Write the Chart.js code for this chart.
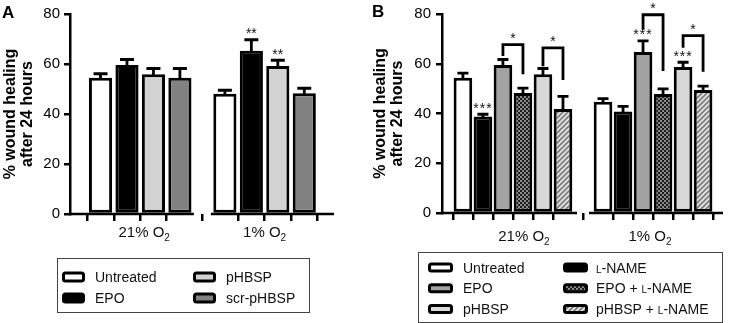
<!DOCTYPE html>
<html>
<head>
<meta charset="utf-8">
<script src="https://cdn.jsdelivr.net/npm/chart.js@4.4.1/dist/chart.umd.min.js"></script>
<style>
  html, body { margin: 0; padding: 0; background: #fff; }
  #wrap { position: relative; width: 729px; height: 323px; }
  canvas { position: absolute; top: 0; }
  #chartA { left: 0; }
  #chartB { left: 360px; }
</style>
</head>
<body>
<div id="wrap">
  <canvas id="chartA" width="360" height="323"></canvas>
  <canvas id="chartB" width="369" height="323"></canvas>
</div>
<script>
// ---- data ----
const GROUP_LABELS = ['21% O₂', '1% O₂'];
const Y_TICKS = [0, 20, 40, 60, 80];

// panel A
const A_TREATMENTS = ['Untreated', 'EPO', 'pHBSP', 'scr-pHBSP'];
const A_MEAN_21 = [54.5, 59.6, 55.9, 54.5];
const A_SEM_21  = [1.6, 2.2, 2.3, 3.7];
const A_MEAN_1  = [48.1, 65.3, 59.2, 48.3];
const A_SEM_1   = [1.4, 4.4, 2.3, 2.0];
const A_STARS_21 = ['', '', '', ''];
const A_STARS_1  = ['', '**', '**', ''];

// panel B
const B_TREATMENTS = ['Untreated', 'L-NAME', 'EPO', 'EPO + L-NAME', 'pHBSP', 'pHBSP + L-NAME'];
const B_MEAN_21 = [54.4, 38.8, 59.5, 48.2, 55.8, 41.8];
const B_SEM_21  = [1.8, 0.9, 2.2, 2.0, 2.3, 5.1];
const B_MEAN_1  = [44.7, 40.8, 64.7, 47.8, 58.7, 49.4];
const B_SEM_1   = [1.3, 2.1, 4.5, 2.1, 1.9, 1.6];
const B_STARS_21 = ['', '***', '', '', '', ''];
const B_STARS_1  = ['', '', '***', '', '***', ''];
// comparison brackets: bars compared, bracket level and leg ends (% healing)
const B_BRACKETS = [
  {group: 0, from: 2, to: 3, top: 67.7, left: 63.1, right: 55.8, text: '*'},
  {group: 0, from: 4, to: 5, top: 66.4, left: 59.0, right: 53.5, text: '*'},
  {group: 1, from: 2, to: 3, top: 79.7, left: 73.7, right: 57.1, text: '*'},
  {group: 1, from: 4, to: 5, top: 71.3, left: 66.4, right: 56.8, text: '*'},
];

// ---- styles ----
const FONT = '"Liberation Sans", Arial, sans-serif';
const INK = '#111';
Chart.defaults.font.family = FONT;

function checkerPattern() {
  const c = document.createElement('canvas'); c.width = 4; c.height = 4;
  const g = c.getContext('2d');
  g.fillStyle = '#1c1c1c'; g.fillRect(0, 0, 4, 4);
  g.fillStyle = '#8a8a8a'; g.fillRect(0, 0, 2, 2); g.fillRect(2, 2, 2, 2);
  return g.createPattern(c, 'repeat');
}
function hatchPattern() {
  const c = document.createElement('canvas'); c.width = 5; c.height = 5;
  const g = c.getContext('2d');
  g.fillStyle = '#e2e2e2'; g.fillRect(0, 0, 5, 5);
  g.strokeStyle = '#7c7c7c'; g.lineWidth = 1.6;
  g.beginPath();
  g.moveTo(-1, 6); g.lineTo(6, -1);
  g.moveTo(-1, 1); g.lineTo(1, -1);
  g.moveTo(4, 6); g.lineTo(6, 4);
  g.stroke();
  return g.createPattern(c, 'repeat');
}

// text with the small-capital L of L-NAME
function drawRich(ctx, text, x, y, size) {
  const parts = text.split('L-NAME');
  let cx = x;
  parts.forEach((part, k) => {
    ctx.font = size + 'px ' + FONT;
    ctx.fillText(part, cx, y); cx += ctx.measureText(part).width;
    if (k < parts.length - 1) {
      ctx.font = Math.round(size * 0.72) + 'px ' + FONT;
      ctx.fillText('L', cx, y); cx += ctx.measureText('L').width;
      ctx.font = size + 'px ' + FONT;
      ctx.fillText('-NAME', cx, y); cx += ctx.measureText('-NAME').width;
    }
  });
}

// group label, trailing ₂ drawn as a lowered small 2
function drawGroupLabel(ctx, text, cx, y) {
  let base = text, sub = '';
  if (text.endsWith('₂')) { base = text.slice(0, -1); sub = '2'; }
  ctx.font = '15px ' + FONT;
  const wb = ctx.measureText(base).width;
  ctx.font = '10px ' + FONT;
  const ws = sub ? ctx.measureText(sub).width : 0;
  const x0 = cx - (wb + ws) / 2;
  ctx.textAlign = 'left';
  ctx.font = '15px ' + FONT;
  ctx.fillText(base, x0, y);
  if (sub) { ctx.font = '10px ' + FONT; ctx.fillText(sub, x0 + wb, y + 4); }
}

function makePanel(id, p) {
  const n = p.treatments.length;
  const pos = (g, i) => g * (n + p.gap) + i;
  const xs = [];
  GROUP_LABELS.forEach((_, g) => { for (let i = 0; i < n; i++) xs.push(pos(g, i)); });

  const datasets = p.treatments.map((t, i) => ({
    label: t,
    data: p.means.map((m, g) => ({x: pos(g, i), y: m[i]})),
    backgroundColor: p.fills[i],
    borderColor: '#000',
    borderWidth: 3,
    borderSkipped: false,
    grouped: false,
    barPercentage: p.barPct,
    categoryPercentage: 1
  }));

  const decor = {
    id: 'decor',
    afterDatasetsDraw(chart) {
      const ctx = chart.ctx, xS = chart.scales.x, yS = chart.scales.y, area = chart.chartArea;
      ctx.save();
      ctx.strokeStyle = '#000';
      ctx.fillStyle = INK;
      // x axis, one segment per group
      ctx.lineWidth = 2.5;
      GROUP_LABELS.forEach((_, g) => {
        const x1 = g === 0 ? area.left - 1.25 : xS.getPixelForValue(pos(g, 0)) - 14;
        const x2 = g === GROUP_LABELS.length - 1 ? area.right : xS.getPixelForValue(pos(g, n - 1)) + 14;
        ctx.beginPath(); ctx.moveTo(x1, area.bottom); ctx.lineTo(x2, area.bottom); ctx.stroke();
      });
      // error bars (mean + SEM) and stars
      ctx.lineWidth = 2.8;
      chart.data.datasets.forEach((ds, i) => {
        chart.getDatasetMeta(i).data.forEach((bar, g) => {
          const yTop = yS.getPixelForValue(p.means[g][i] + p.sems[g][i]);
          ctx.beginPath();
          ctx.moveTo(bar.x, bar.y + 2); ctx.lineTo(bar.x, yTop);
          ctx.moveTo(bar.x - p.cap / 2, yTop); ctx.lineTo(bar.x + p.cap / 2, yTop);
          ctx.stroke();
          const s = p.stars[g][i];
          if (s) {
            ctx.font = '14px ' + FONT; ctx.textAlign = 'center'; ctx.textBaseline = 'alphabetic';
            ctx.letterSpacing = p.starSpacing;
            ctx.fillText(s, bar.x, yTop - 1.5);
            ctx.letterSpacing = '0px';
          }
        });
      });
      // brackets
      ctx.lineWidth = 2.8; ctx.lineJoin = 'miter';
      (p.brackets || []).forEach(b => {
        const xl = xS.getPixelForValue(pos(b.group, b.from));
        const xr = xS.getPixelForValue(pos(b.group, b.to));
        const yt = yS.getPixelForValue(b.top);
        ctx.beginPath();
        ctx.moveTo(xl, yS.getPixelForValue(b.left));
        ctx.lineTo(xl, yt); ctx.lineTo(xr, yt);
        ctx.lineTo(xr, yS.getPixelForValue(b.right));
        ctx.stroke();
        ctx.font = '14px ' + FONT; ctx.textAlign = 'center'; ctx.textBaseline = 'alphabetic';
        ctx.fillText(b.text, (xl + xr) / 2, yt - 2);
      });
      // group labels
      ctx.textBaseline = 'alphabetic';
      GROUP_LABELS.forEach((lab, g) => {
        const cx = xS.getPixelForValue(pos(g, (n - 1) / 2 + p.labelShift[g]));
        drawGroupLabel(ctx, lab, cx, p.labelY);
      });
      ctx.restore();
    },
    afterDraw(chart) {
      const ctx = chart.ctx, L = p.legend;
      ctx.save();
      // panel letter
      ctx.fillStyle = '#000';
      ctx.font = 'bold 17px ' + FONT; ctx.textAlign = 'left'; ctx.textBaseline = 'alphabetic';
      ctx.fillText(p.letter, p.letterPos[0], p.letterPos[1]);
      // legend box
      ctx.strokeStyle = '#444'; ctx.lineWidth = 1;
      ctx.strokeRect(L.box[0] + 0.5, L.box[1] + 0.5, L.box[2], L.box[3]);
      L.cols.forEach(col => {
        col.items.forEach((idx, r) => {
          const cy = L.rows[r];
          ctx.fillStyle = p.fills[idx];
          ctx.strokeStyle = '#000'; ctx.lineWidth = 3;
          ctx.beginPath();
          ctx.roundRect(col.sx + 1.5, cy - L.sh / 2 + 1.5, L.sw - 3, L.sh - 3, 2);
          ctx.fill(); ctx.stroke();
          ctx.fillStyle = INK; ctx.textAlign = 'left'; ctx.textBaseline = 'alphabetic';
          drawRich(ctx, p.treatments[idx], col.tx, cy + 5, 14);
        });
      });
      ctx.restore();
    }
  };

  return new Chart(document.getElementById(id), {
    type: 'bar',
    data: {datasets},
    options: {
      responsive: false,
      animation: false,
      layout: {padding: {left: p.padLeft, top: p.top, right: p.padRight, bottom: 0}},
      plugins: {legend: {display: false}, tooltip: {enabled: false}},
      scales: {
        x: {
          type: 'linear',
          min: -p.xLead,
          max: pos(GROUP_LABELS.length - 1, n - 1) + p.xTail,
          afterBuildTicks: s => { s.ticks = xs.map(v => ({value: v})); },
          afterFit: s => { s.height = 323 - p.bottom; },
          ticks: {callback: () => '', autoSkip: false, maxRotation: 0},
          grid: {drawOnChartArea: false, drawTicks: true, tickLength: 7, lineWidth: 2.5, color: '#000'},
          border: {display: false}
        },
        y: {
          min: 0, max: 80,
          afterBuildTicks: s => { s.ticks = Y_TICKS.map(v => ({value: v})); },
          afterFit: s => { s.width = p.yWidth; },
          ticks: {color: '#000', font: {size: 15}, padding: p.tickPad},
          grid: {drawOnChartArea: false, drawTicks: true, tickLength: 6, lineWidth: 2.5, color: '#000'},
          border: {display: true, width: 2.5, color: '#000'},
          title: {
            display: true,
            text: ['% wound healing', 'after 24 hours'],
            color: '#000',
            font: {size: 16, weight: 'bold', lineHeight: 1.05},
            padding: {top: 2, bottom: 0}
          }
        }
      }
    },
    plugins: [decor]
  });
}

makePanel('chartA', {
  letter: 'A', letterPos: [2, 18],
  treatments: A_TREATMENTS,
  means: [A_MEAN_21, A_MEAN_1],
  sems: [A_SEM_21, A_SEM_1],
  stars: [A_STARS_21, A_STARS_1],
  fills: ['#ffffff', '#000000', '#d2d2d2', '#828282'],
  gap: 0.7, xLead: 0.53, xTail: 0.5, barPct: 0.875, cap: 14, starSpacing: '0px',
  padLeft: 0, padRight: 26, top: 14, bottom: 214, yWidth: 70, tickPad: 4,
  labelShift: [0.15, 0], labelY: 237,
  legend: {
    box: [57, 258, 252, 54], rows: [277, 298], sw: 23, sh: 11,
    cols: [{sx: 62, tx: 95, items: [0, 1]}, {sx: 193, tx: 226, items: [2, 3]}]
  }
});

makePanel('chartB', {
  letter: 'B', letterPos: [12, 17],
  treatments: B_TREATMENTS,
  means: [B_MEAN_21, B_MEAN_1],
  sems: [B_SEM_21, B_SEM_1],
  stars: [B_STARS_21, B_STARS_1],
  brackets: B_BRACKETS,
  fills: ['#ffffff', '#000000', '#a2a2a2', checkerPattern(), '#d8d8d8', hatchPattern()],
  gap: 1, xLead: 0.46, xTail: 0.41, barPct: 0.93, cap: 11, starSpacing: '1px',
  padLeft: 10, padRight: 6, top: 13, bottom: 213, yWidth: 72, tickPad: 5,
  labelShift: [0.55, -0.15], labelY: 241,
  legend: {
    box: [58, 252, 304, 70], rows: [267.5, 288.3, 309], sw: 25, sh: 10,
    cols: [{sx: 68, tx: 103, items: [0, 2, 4]}, {sx: 203, tx: 236, items: [1, 3, 5]}]
  }
});
</script>
</body>
</html>
